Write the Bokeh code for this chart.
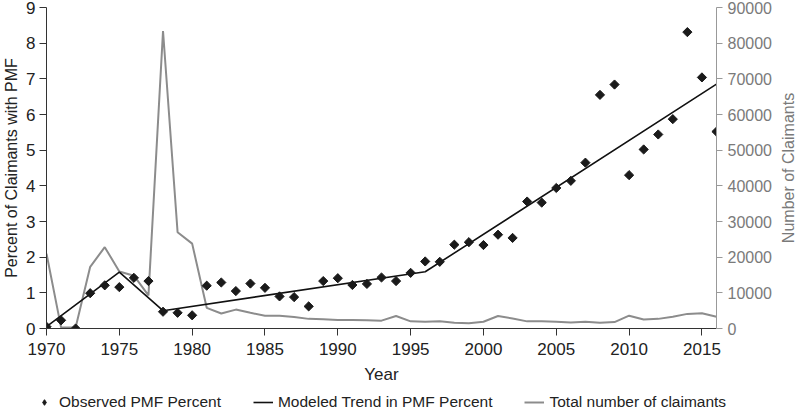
import math
from bokeh.plotting import figure
from bokeh.layouts import column, row
from bokeh.models import (Range1d, LinearAxis, FixedTicker, Legend, LegendItem,
                          BasicTickFormatter)
from bokeh.core.properties import value
from bokeh.embed import file_html
from bokeh.resources import INLINE

years = list(range(1970, 2017))

pmf_percent = [0.05, 0.23, 0.00, 0.99, 1.21, 1.16, 1.42, 1.33, 0.47, 0.44,
               0.37, 1.20, 1.29, 1.05, 1.26, 1.14, 0.90, 0.88, 0.62, 1.33,
               1.41, 1.22, 1.25, 1.43, 1.33, 1.56, 1.88, 1.87, 2.35, 2.42,
               2.34, 2.63, 2.54, 3.56, 3.53, 3.94, 4.14, 4.65, 6.55, 6.84,
               4.30, 5.02, 5.44, 5.87, 8.31, 7.04, 5.52]

trend_years = [1970, 1975, 1978, 1996, 2016]
trend_percent = [0.05, 1.58, 0.50, 1.59, 6.85]

claimants = [21000, 300, 300, 17300, 22800, 16000, 14800, 9300, 83400, 27000,
             23800, 5800, 4200, 5300, 4400, 3600, 3600, 3200, 2700, 2600,
             2400, 2400, 2300, 2200, 3500, 2000, 1900, 2000, 1600, 1500,
             1900, 3500, 2800, 2000, 2000, 1900, 1700, 1900, 1600, 1800,
             3600, 2500, 2700, 3300, 4100, 4300, 3300]

x_ticks = [1970, 1975, 1980, 1985, 1990, 1995, 2000, 2005, 2010, 2015]
left_ticks = list(range(0, 10))
right_ticks = list(range(0, 90001, 10000))

FONT = "Liberation Sans"
GRAY = "#8c8c8c"
GRAY_TXT = "#7a7a7a"
DARK = "#1a1a1a"

p = figure(width=776, height=392, output_backend="svg", toolbar_location=None,
           x_range=Range1d(1970, 2016), y_range=Range1d(0, 9),
           min_border_top=7, min_border_left=0, min_border_right=60,
           min_border_bottom=64)
p.outline_line_color = None
p.xgrid.visible = False
p.ygrid.visible = False
p.extra_y_ranges = {"claim": Range1d(0, 90000)}

# bottom axis
xa = p.xaxis[0]
xa.ticker = FixedTicker(ticks=x_ticks)
xa.axis_label = "Year"
xa.axis_line_color = "#333333"
xa.major_tick_line_color = "#333333"
xa.major_tick_out = 7
xa.major_tick_in = 0
xa.minor_tick_line_color = None
xa.major_label_text_font = FONT
xa.major_label_text_font_size = "17px"
xa.major_label_text_color = "#222222"
xa.major_label_standoff = 7
xa.axis_label_text_font = FONT
xa.axis_label_text_font_size = "17px"
xa.axis_label_text_font_style = "normal"
xa.axis_label_text_color = "#222222"
xa.axis_label_standoff = 7

# left axis
ya = p.yaxis[0]
ya.ticker = FixedTicker(ticks=left_ticks)
ya.axis_label = "Percent of Claimants with PMF"
ya.axis_line_color = "#333333"
ya.major_tick_line_color = "#333333"
ya.major_tick_out = 7
ya.major_tick_in = 0
ya.minor_tick_line_color = None
ya.major_label_text_font = FONT
ya.major_label_text_font_size = "17px"
ya.major_label_text_color = "#222222"
ya.major_label_standoff = 4
ya.axis_label_text_font = FONT
ya.axis_label_text_font_size = "16px"
ya.axis_label_text_font_style = "normal"
ya.axis_label_text_color = "#222222"
ya.axis_label_standoff = 3

# right axis (its title is drawn in a thin strip to the right)
ra = LinearAxis(y_range_name="claim",
                ticker=FixedTicker(ticks=right_ticks),
                formatter=BasicTickFormatter(use_scientific=False))
ra.axis_line_color = "#999999"
ra.major_tick_line_color = "#999999"
ra.major_tick_out = 6
ra.major_tick_in = 0
ra.minor_tick_line_color = None
ra.major_label_text_font = FONT
ra.major_label_text_font_size = "16px"
ra.major_label_text_color = GRAY_TXT
ra.major_label_standoff = 5
p.add_layout(ra, "right")

p.line(years, claimants, y_range_name="claim", line_color=GRAY, line_width=2)
p.line(trend_years, trend_percent, line_color="#111111", line_width=1.6)
p.scatter(years, pmf_percent, marker="square", angle=math.pi / 4,
          size=6.5, fill_color=DARK, line_color=DARK)

# right axis title strip
rt = figure(width=24, height=392, output_backend="svg", toolbar_location=None,
            x_range=Range1d(0, 1), y_range=Range1d(0, 9),
            x_axis_location=None, y_axis_location=None,
            min_border_top=7, min_border_bottom=64,
            min_border_left=0, min_border_right=0)
rt.outline_line_color = None
rt.grid.visible = False
rt.text(x=[0.5], y=[4.5], text=["Number of Claimants"], angle=math.pi / 2,
        text_align="center", text_baseline="middle",
        text_font=value(FONT), text_font_size="16px", text_color=GRAY_TXT)

# legend strip below the chart
lg = figure(width=800, height=20, output_backend="svg", toolbar_location=None,
            x_range=Range1d(0, 1), y_range=Range1d(0, 1),
            x_axis_location=None, y_axis_location=None,
            min_border_top=0, min_border_bottom=0,
            min_border_left=0, min_border_right=0)
lg.outline_line_color = None
lg.grid.visible = False
k_obs = lg.scatter([-5], [-5], marker="diamond", size=10,
                   fill_color=DARK, line_color=DARK)
k_trend = lg.line([-5, -4], [-5, -5], line_color="#111111", line_width=1.6)
k_claim = lg.line([-5, -4], [-5, -5], line_color=GRAY, line_width=2)

legend = Legend(items=[
    LegendItem(label="Observed PMF Percent", renderers=[k_obs]),
    LegendItem(label="Modeled Trend in PMF Percent", renderers=[k_trend]),
    LegendItem(label="Total number of claimants", renderers=[k_claim]),
], orientation="horizontal", location=(34, 1))
legend.border_line_color = None
legend.background_fill_alpha = 0
legend.label_text_font = FONT
legend.label_text_font_size = "15.5px"
legend.label_text_color = "#222222"
legend.glyph_width = 20
legend.glyph_height = 14
legend.label_standoff = 5
legend.spacing = 32
legend.padding = 0
legend.margin = 0
lg.add_layout(legend, "center")

layout = column(row(p, rt, spacing=0), lg, spacing=0)
open("out.html", "w").write(file_html(layout, INLINE))
